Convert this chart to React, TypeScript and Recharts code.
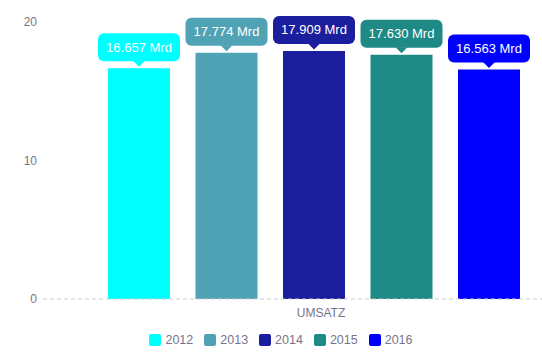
import React from 'react';
import { BarChart, Bar, XAxis, YAxis, Legend, LabelList } from 'recharts';

const categories = ['UMSATZ'];
const years = ['2012', '2013', '2014', '2015', '2016'];
const values = [16.657, 17.774, 17.909, 17.63, 16.563];
const labels = ['16.657 Mrd', '17.774 Mrd', '17.909 Mrd', '17.630 Mrd', '16.563 Mrd'];
const colors = ['#00FFFF', '#4FA3B5', '#1B1F9E', '#1F8985', '#0000FF'];
const yTicks = [0, 10, 20];

const data = categories.map((c) => {
  const row: Record<string, any> = { name: c };
  years.forEach((y, i) => {
    row['y' + y] = values[i];
  });
  return row;
});

const FONT = '"Liberation Sans", Arial, sans-serif';
const GREY = '#77738a';

const makeLabel = (idx: number) => (props: any) => {
  const { x, y, width } = props;
  const cx = x + width / 2;
  const w = 82;
  const h = 28;
  const boxBottom = y - 7;
  return (
    <g>
      <rect x={cx - w / 2} y={boxBottom - h} width={w} height={h} rx={6} ry={6} fill={colors[idx]} />
      <path d={`M${cx - 6},${boxBottom - 0.5} L${cx + 6},${boxBottom - 0.5} L${cx},${y - 1.5} Z`} fill={colors[idx]} />
      <text
        x={cx}
        y={boxBottom - h / 2}
        textAnchor="middle"
        dominantBaseline="central"
        fill="#ffffff"
        fontSize={13}
        fontFamily={FONT}
      >
        {labels[idx]}
      </text>
    </g>
  );
};

const renderLegend = () => (
  <div
    style={{
      display: 'flex',
      justifyContent: 'center',
      alignItems: 'center',
      height: 24,
      fontFamily: FONT,
      fontSize: 12.5,
      color: GREY,
      paddingLeft: 20,
    }}
  >
    {years.map((y, i) => (
      <div key={y} style={{ display: 'flex', alignItems: 'center', marginRight: i < years.length - 1 ? 11 : 0 }}>
        <span
          style={{
            display: 'inline-block',
            width: 12,
            height: 12,
            background: colors[i],
            borderRadius: 2,
            marginRight: 4,
          }}
        />
        <span>{y}</span>
      </div>
    ))}
  </div>
);

export default function App() {
  return (
    <div style={{ position: 'absolute', left: 0, top: 0, width: 542, height: 353, background: '#fff' }}>
      <BarChart
        width={542}
        height={353}
        data={data}
        margin={{ top: 22, right: 0, left: 0, bottom: 1 }}
        barSize={62}
        barGap={25.5}
      >
        <XAxis
          dataKey="name"
          padding={{ left: 43, right: 0 }}
          axisLine={{ stroke: '#cccccc', strokeDasharray: '4 3', strokeWidth: 1 }}
          tickLine={false}
          tickSize={0}
          tickMargin={9}
          height={29}
          tick={{ fill: GREY, fontSize: 12, fontFamily: FONT, dx: 7 }}
        />
        <YAxis
          domain={[0, 20]}
          ticks={yTicks}
          axisLine={false}
          tickLine={false}
          tickSize={0}
          tickMargin={6}
          width={43}
          tick={{ fill: GREY, fontSize: 12, fontFamily: FONT }}
        />
        <Legend verticalAlign="bottom" content={renderLegend} />
        {years.map((y, i) => (
          <Bar key={y} dataKey={'y' + y} name={y} fill={colors[i]} isAnimationActive={false}>
            <LabelList dataKey={'y' + y} content={makeLabel(i)} />
          </Bar>
        ))}
      </BarChart>
    </div>
  );
}
